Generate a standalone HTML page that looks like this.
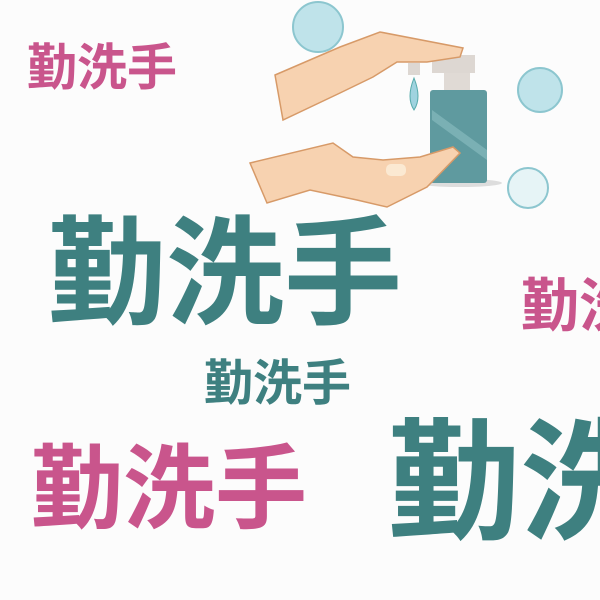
<!DOCTYPE html>
<html><head><meta charset="utf-8"><style>
html,body{margin:0;padding:0;background:#fcfcfc;width:600px;height:600px;overflow:hidden;position:relative}
#wrap{position:absolute;left:0;top:0;width:600px;height:600px;overflow:hidden}
.t{position:absolute;font-family:"Liberation Sans","Noto Sans CJK TC",sans-serif;font-weight:700;white-space:nowrap;line-height:1}
.p{color:#c9558c}.g{color:#3e8080}
</style></head><body>
<div id="wrap">
<svg width="600" height="600" style="position:absolute;left:0;top:0">
<circle cx="318" cy="27" r="25" fill="#bfe3ea" stroke="#8cc6cf" stroke-width="2"/>
<circle cx="540" cy="90" r="22" fill="#bfe3ea" stroke="#8cc6cf" stroke-width="2"/>
<circle cx="528" cy="188" r="20" fill="#e6f4f6" stroke="#8cc6cf" stroke-width="2"/>
<ellipse cx="460" cy="183" rx="42" ry="4" fill="#ddd"/>
<rect x="432" y="55" width="43" height="18" fill="#ddd7d2"/>
<rect x="444" y="73" width="26" height="17" fill="#e0dad5"/>
<rect x="408" y="63" width="12" height="12" fill="#ddd7d2"/>
<rect x="430" y="90" width="57" height="93" rx="3" fill="#5f9a9f"/>
<path d="M432 110 L487 150 L487 160 L432 120Z" fill="#7ab0b4"/>
<path d="M414 78 Q422 98 414 110 Q406 98 414 78Z" fill="#9fd3df" stroke="#5aa" stroke-width="1"/>
<path d="M275 75 L340 47 L380 32 L463 48 L460 57 L427 62 L397 62 L373 77 L340 93 L283 120Z" fill="#f7d2b0" stroke="#d79a68" stroke-width="1.5"/>
<path d="M250 163 L333 143 L353 157 L383 160 L420 157 L453 147 L460 153 L427 187 L387 207 L357 200 L310 190 L267 203Z" fill="#f7d2b0" stroke="#d79a68" stroke-width="1.5"/>
<rect x="386" y="164" width="20" height="12" rx="5" fill="#fbe9d2"/>
</svg>
<div class="t p" style="left:27px;top:43px;font-size:50px">勤洗手</div>
<div class="t g" style="left:48px;top:216px;font-size:118px">勤洗手</div>
<div class="t p" style="left:521px;top:278px;font-size:58px">勤洗手</div>
<div class="t g" style="left:204px;top:360px;font-size:49px">勤洗手</div>
<div class="t p" style="left:31px;top:444px;font-size:92px">勤洗手</div>
<div class="t g" style="left:388px;top:418px;font-size:132px">勤洗手</div>
</div>
</body></html>
